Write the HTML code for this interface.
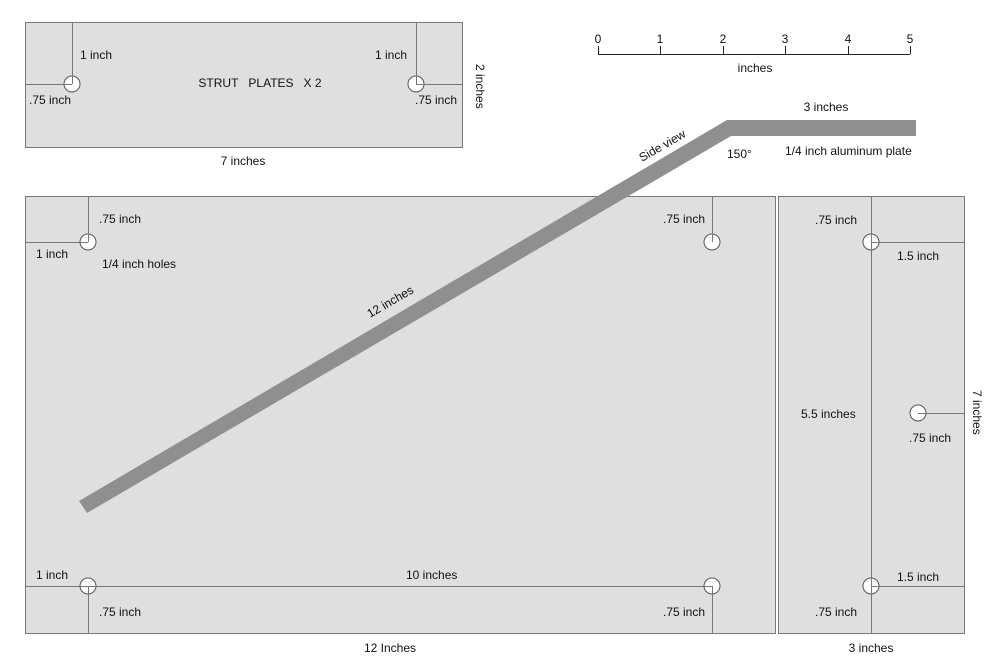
<!DOCTYPE html>
<html><head><style>
body{margin:0;background:#fff;}
svg{display:block;font-family:"Liberation Sans",Arial,sans-serif;}
text{font-size:12px;fill:#111;}
</style></head><body>
<svg width="1000" height="670" viewBox="0 0 1000 670">
<g stroke="#777" stroke-width="1" fill="#dfdfdf">
<rect x="25.5" y="22.5" width="437" height="125"/>
<rect x="25.5" y="196.5" width="750" height="437"/>
<rect x="778.5" y="196.5" width="186" height="437"/>
</g>
<g stroke="#777" stroke-width="1" fill="none">
<path d="M72.5 22V84M25 84.5H72M416.5 22V84M416 84.5H462"/>
<path d="M88.5 196V242M25 242.5H88M712.5 196V242M25 586.5H712M88.5 586V633M712.5 586V633"/>
<path d="M871.5 196V633M871 242.5H964M871 586.5H964M918 413.5H964"/>
</g>
<g stroke="#555" fill="#fff" stroke-width="1">
<circle cx="72" cy="84" r="8"/><circle cx="416" cy="84" r="8"/>
<circle cx="88" cy="242" r="8"/><circle cx="712" cy="242" r="8"/>
<circle cx="88" cy="586" r="8"/><circle cx="712" cy="586" r="8"/>
<circle cx="871" cy="242" r="8"/><circle cx="871" cy="586" r="8"/><circle cx="918" cy="413" r="8"/>
</g>
<g stroke="#777" stroke-width="1" fill="none">
<path d="M72.5 22V84M25 84.5H72M416.5 22V84M416 84.5H462M88.5 196V242M25 242.5H88M712.5 196V242M25 586.5H712M88.5 586V633M712.5 586V633M871.5 196V633M871 242.5H964M871 586.5H964M918 413.5H964"/>
</g>
<path d="M79 501L727 120H916V136H731L87 513Z" fill="#8f8f8f"/>
<g stroke="#222" stroke-width="1">
<path d="M598 54.5H910M598.5 46V54M660.5 46V54M723.5 46V54M785.5 46V54M848.5 46V54M910.5 46V54"/>
</g>
<g text-anchor="middle">
<text x="598" y="43">0</text><text x="660" y="43">1</text><text x="723" y="43">2</text><text x="785" y="43">3</text><text x="848" y="43">4</text><text x="910" y="43">5</text>
<text x="755" y="72">inches</text>
<text x="243" y="165">7 inches</text>
<text x="390" y="652">12 Inches</text>
<text x="871" y="652">3 inches</text>
<text x="826" y="111">3 inches</text>
<text x="260" y="87">STRUT&#160;&#160;&#160;PLATES&#160;&#160;&#160;X 2</text>
</g>
<text x="80" y="59">1 inch</text>
<text x="375" y="59">1 inch</text>
<text x="29" y="104">.75 inch</text>
<text x="415" y="104">.75 inch</text>
<text x="99" y="223">.75 inch</text>
<text x="36" y="258">1 inch</text>
<text x="102" y="268">1/4 inch holes</text>
<text x="663" y="223">.75 inch</text>
<text x="36" y="579">1 inch</text>
<text x="406" y="579">10 inches</text>
<text x="99" y="616">.75 inch</text>
<text x="663" y="616">.75 inch</text>
<text x="815" y="224">.75 inch</text>
<text x="897" y="260">1.5 inch</text>
<text x="801" y="418">5.5 inches</text>
<text x="909" y="442">.75 inch</text>
<text x="897" y="581">1.5 inch</text>
<text x="815" y="616">.75 inch</text>
<text x="785" y="155">1/4 inch aluminum plate</text>
<text x="727" y="158">150°</text>
<text transform="translate(370,318) rotate(-30)">12 inches</text>
<text transform="translate(642,162) rotate(-30)">Side view</text>
<text transform="translate(476,64) rotate(90)">2 inches</text>
<text transform="translate(973,390) rotate(90)">7 inches</text>
</svg>
</body></html>
